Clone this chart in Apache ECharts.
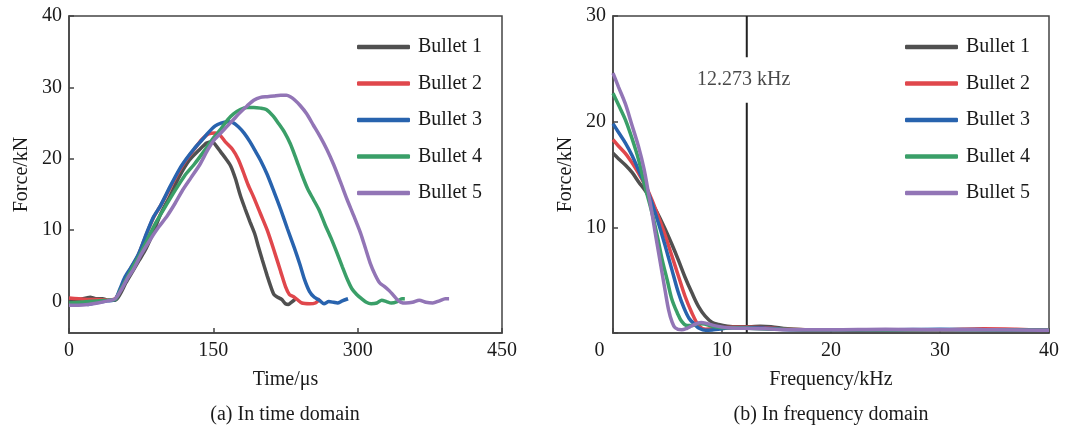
<!DOCTYPE html>
<html><head><meta charset="utf-8">
<script src="https://cdn.jsdelivr.net/npm/echarts@6/dist/echarts.min.js"></script>
<style>html,body{margin:0;padding:0;background:#fff}#c{width:1066px;height:427px}</style>
</head><body><div id="c"></div>
<script>
const seriesNames = ['Bullet 1','Bullet 2','Bullet 3','Bullet 4','Bullet 5'];
const timeTicks = [0,150,300,450];
const timeForceTicks = [0,10,20,30,40];
const freqTicks = [0,10,20,30,40];
const freqForceTicks = [0,10,20,30];
const markerFreq = 12.273;
const markerText = '12.273 kHz';

// Time domain [t (µs), force (kN)]
const timeB1 = [[0,0.2],[10,0.3],[18,0.5],[22,0.6],[28,0.4],[35,0.4],[40,0.2],[48,0.2],[53,1.0],[59,2.6],[66,4.2],[73,5.8],[80,7.4],[88,9.8],[95,12.2],[105,14.8],[115,17.6],[125,19.8],[135,21.2],[143,22.2],[149,22.4],[153,21.8],[158,20.9],[163,20.0],[168,19.0],[173,17.2],[178,14.9],[183,13.0],[188,11.2],[193,9.5],[197,7.6],[201,5.8],[206,3.6],[210,2.0],[213,1.0],[217,0.6],[221,0.3],[225,-0.3],[228,-0.4],[231,-0.1],[235,0.3]];
const timeB2 = [[0,0.5],[10,0.4],[20,0.3],[30,0.3],[40,0.2],[48,0.4],[53,1.5],[58,3.2],[64,4.6],[72,6.5],[81,9.6],[88,11.8],[95,13.4],[105,15.9],[115,18.4],[122,19.9],[130,21.3],[138,22.7],[145,23.5],[152,23.6],[157,23.3],[163,22.3],[170,21.3],[176,19.9],[181,18.2],[186,16.4],[192,14.6],[199,12.3],[206,10.0],[213,7.2],[220,4.2],[225,2.1],[229,1.0],[233,0.7],[237,0.3],[242,-0.2],[250,-0.3],[256,-0.2],[261,0.4]];
const timeB3 = [[0,-0.3],[10,-0.3],[20,-0.4],[30,-0.1],[40,0.1],[48,0.3],[53,1.8],[58,3.4],[64,4.7],[72,6.6],[81,9.7],[88,11.9],[95,13.4],[105,16.1],[115,18.6],[122,20.0],[130,21.4],[138,22.6],[145,23.7],[152,24.6],[158,25.0],[164,25.2],[170,25.1],[176,24.5],[182,23.6],[188,22.4],[194,21.0],[199,19.8],[206,17.8],[213,15.4],[220,12.9],[227,10.2],[234,7.6],[240,5.2],[245,3.0],[250,1.4],[255,0.6],[260,0.2],[265,-0.3],[270,0.0],[275,-0.1],[279,-0.2],[284,0.1],[290,0.4]];
const timeB4 = [[0,-0.2],[10,-0.1],[20,0.0],[30,0.1],[40,0.2],[48,0.3],[53,1.5],[59,3.0],[66,4.8],[73,6.4],[81,8.6],[90,11.0],[101,13.5],[110,15.5],[120,17.6],[130,19.2],[140,21.0],[150,22.9],[158,24.2],[165,25.5],[171,26.3],[178,26.9],[185,27.2],[192,27.2],[199,27.1],[205,26.9],[212,26.0],[218,24.9],[224,23.7],[230,22.1],[236,20.0],[242,17.8],[248,15.8],[254,14.3],[260,12.8],[266,10.8],[272,9.0],[278,7.0],[284,4.9],[289,3.2],[294,1.8],[299,1.0],[304,0.4],[309,-0.1],[314,-0.3],[320,-0.2],[325,0.2],[330,0.0],[335,-0.2],[341,0.0],[346,0.4],[349,0.4]];
const timeB5 = [[0,-0.5],[10,-0.5],[20,-0.4],[30,-0.2],[40,0.1],[48,0.4],[55,1.8],[61,3.3],[67,4.5],[75,6.6],[84,8.6],[93,10.4],[102,12.0],[110,13.7],[118,15.6],[127,17.4],[136,19.2],[144,21.2],[150,22.5],[157,23.5],[164,24.5],[171,25.5],[178,26.5],[185,27.4],[192,28.2],[199,28.6],[206,28.7],[213,28.8],[220,28.9],[226,28.9],[230,28.7],[234,28.3],[240,27.5],[247,26.3],[254,24.7],[261,23.1],[268,21.3],[275,19.2],[282,16.8],[289,14.3],[296,12.0],[303,9.6],[308,7.5],[313,5.4],[318,3.8],[323,2.6],[328,2.1],[333,1.5],[337,0.9],[341,0.3],[345,-0.1],[350,-0.2],[357,-0.1],[364,0.2],[371,-0.1],[378,-0.2],[385,0.1],[391,0.4],[395,0.4]];

// Frequency domain [f (kHz), force (kN)]
const freqB1 = [[0,17.0],[0.5,16.5],[1.13,15.9],[1.75,15.2],[2.35,14.3],[3,13.4],[3.57,12.3],[4.2,11.1],[4.8,9.8],[5.4,8.4],[6.0,6.9],[6.6,5.3],[7.24,3.8],[7.85,2.5],[8.46,1.6],[9.1,1.0],[9.68,0.8],[10.5,0.65],[11.5,0.6],[12.5,0.6],[13.5,0.65],[14.5,0.6],[16,0.4],[18,0.3],[20,0.3],[22,0.25],[25,0.3],[30,0.3],[35,0.3],[40,0.25]];
const freqB2 = [[0,18.3],[0.5,17.7],[1.13,17.0],[1.75,16.1],[2.35,15.1],[3,13.9],[3.57,12.6],[4.2,10.9],[4.8,9.2],[5.4,7.3],[6.0,5.4],[6.6,3.5],[7.24,1.9],[7.87,0.7],[8.5,0.35],[9.2,0.4],[10,0.5],[11,0.55],[12.5,0.55],[14,0.5],[16,0.35],[20,0.3],[25,0.3],[30,0.3],[34,0.4],[37,0.35],[40,0.25]];
const freqB3 = [[0,19.8],[0.5,19.0],[1.13,18.0],[1.75,16.8],[2.35,15.4],[3,13.9],[3.57,12.3],[4.2,10.3],[4.8,8.2],[5.4,6.0],[6.0,3.8],[6.5,2.4],[6.97,1.4],[7.5,0.8],[7.9,0.45],[8.5,0.25],[9.2,0.3],[10,0.4],[11,0.5],[12.5,0.5],[14,0.45],[17,0.3],[20,0.3],[25,0.3],[30,0.35],[35,0.3],[40,0.25]];
const freqB4 = [[0,22.7],[0.5,21.6],[1.13,20.2],[1.75,18.4],[2.35,16.4],[2.9,14.0],[3.57,11.4],[4.1,9.0],[4.5,7.0],[5.0,4.9],[5.4,3.2],[5.9,1.9],[6.3,1.1],[6.8,0.7],[7.3,0.7],[7.8,0.9],[8.4,0.85],[9.2,0.6],[10,0.5],[11,0.5],[12.5,0.45],[15,0.35],[20,0.3],[25,0.3],[30,0.3],[35,0.3],[40,0.25]];
const freqB5 = [[0,24.6],[0.5,23.3],[1.13,21.7],[1.7,19.8],[2.35,17.6],[2.85,15.5],[3.26,13.2],[3.6,11.2],[3.87,9.5],[4.2,7.5],[4.5,5.7],[4.8,3.9],[5.1,2.2],[5.4,1.1],[5.7,0.5],[6.3,0.3],[6.8,0.45],[7.2,0.66],[7.7,0.9],[8.1,1.0],[8.6,0.9],[9.3,0.7],[10.5,0.5],[12,0.45],[14,0.4],[16,0.3],[20,0.3],[25,0.35],[30,0.3],[35,0.3],[40,0.25]];

const colors = ['#505050','#e0474c','#2863ae','#3a9f68','#9275b6'];
const timeData = [timeB1,timeB2,timeB3,timeB4,timeB5];
const freqData = [freqB1,freqB2,freqB3,freqB4,freqB5];

const FONT = 'Liberation Serif';
const FS = 20;
const TXT = '#1a1a1a';
const AX = '#444';

function xAxisCfg(grid, min, max, interval, name, fmt){
  return {type:'value', gridIndex:grid, min:min, max:max, interval:interval,
    name:name, nameLocation:'middle', nameGap:37,
    nameTextStyle:{fontFamily:FONT, fontSize:FS, color:TXT},
    axisLine:{onZero:false, lineStyle:{color:AX, width:1.5}},
    axisTick:{inside:true, length:5, lineStyle:{color:AX, width:1.5}},
    axisLabel:{fontFamily:FONT, fontSize:FS, color:TXT, margin:8, formatter:fmt,
      rich:{z:{fontFamily:FONT, fontSize:FS, color:TXT, padding:[0,27,0,0]}}},
    splitLine:{show:false}};
}
function yAxisCfg(grid, min, max, ticks, name, showZero){
  const labels = showZero ? ticks : ticks.filter(v=>v!==0);
  return {type:'value', gridIndex:grid, min:min, max:max,
    name:name, nameLocation:'middle', nameGap:37, nameRotate:90,
    nameTextStyle:{fontFamily:FONT, fontSize:FS, color:TXT},
    axisLine:{onZero:false, lineStyle:{color:AX, width:1.5}},
    axisTick:{inside:true, length:5, customValues:ticks, lineStyle:{color:AX, width:1.5}},
    axisLabel:{fontFamily:FONT, fontSize:FS, color:TXT, margin:7, customValues:labels},
    splitLine:{show:false}};
}

const series = [];
seriesNames.forEach((n,i)=>{
  series.push({name:n, type:'line', xAxisIndex:0, yAxisIndex:0, data:timeData[i],
    showSymbol:false, symbol:'none', smooth:0.25, z:3+i,
    lineStyle:{color:colors[i], width:3.5}, itemStyle:{color:colors[i]}});
});
seriesNames.forEach((n,i)=>{
  series.push({name:n, type:'line', xAxisIndex:1, yAxisIndex:1, data:freqData[i],
    showSymbol:false, symbol:'none', smooth:0.35, z:3+i,
    lineStyle:{color:colors[i], width:3.5}, itemStyle:{color:colors[i]}});
});
// marker line with a gap for the label
series.push({name:'marker', type:'line', xAxisIndex:1, yAxisIndex:1, symbol:'none', z:2,
  connectNulls:false, silent:true,
  data:[[markerFreq,30],[markerFreq,26.1],[markerFreq,'-'],[markerFreq,21.8],[markerFreq,0]],
  lineStyle:{color:'#222', width:2}});
series.push({name:'markerLabel', type:'scatter', xAxisIndex:1, yAxisIndex:1, symbolSize:1, silent:true,
  itemStyle:{color:'rgba(0,0,0,0)'},
  data:[[markerFreq,23.95]],
  label:{show:true, position:'inside', offset:[-3,0], formatter:markerText,
    fontFamily:FONT, fontSize:FS, color:TXT}});

function legendCfg(left){
  return {data:seriesNames, orient:'vertical', left:left, top:32, itemWidth:53, itemHeight:4.5,
    itemGap:16.5, icon:'roundRect',
    textStyle:{fontFamily:FONT, fontSize:FS, color:TXT, lineHeight:20, padding:[0,0,0,3]}};
}

const chart = echarts.init(document.getElementById('c'), null, {renderer:'canvas'});
chart.setOption({
  animation:false,
  backgroundColor:'#fff',
  grid:[
    {left:69, right:564, top:16, bottom:94, show:true, borderColor:AX, borderWidth:1.5, backgroundColor:'transparent'},
    {left:613, right:17, top:16, bottom:94, show:true, borderColor:AX, borderWidth:1.5, backgroundColor:'transparent'}
  ],
  legend:[legendCfg(352), legendCfg(900)],
  xAxis:[
    xAxisCfg(0, timeTicks[0], timeTicks[timeTicks.length-1], 150, 'Time/μs', v=>String(v)),
    xAxisCfg(1, freqTicks[0], freqTicks[freqTicks.length-1], 10, 'Frequency/kHz', v=> v===0 ? '{z|0}' : String(v))
  ],
  yAxis:[
    yAxisCfg(0, -4.4, 40, timeForceTicks, 'Force/kN', true),
    yAxisCfg(1, 0, 30, freqForceTicks, 'Force/kN', false)
  ],
  graphic:[
    {type:'text', x:285, y:415, style:{text:'(a) In time domain', font:FS+'px "'+FONT+'"', fill:TXT, align:'center', verticalAlign:'middle'}},
    {type:'text', x:831, y:415, style:{text:'(b) In frequency domain', font:FS+'px "'+FONT+'"', fill:TXT, align:'center', verticalAlign:'middle'}}
  ],
  series:series
});
</script></body></html>
